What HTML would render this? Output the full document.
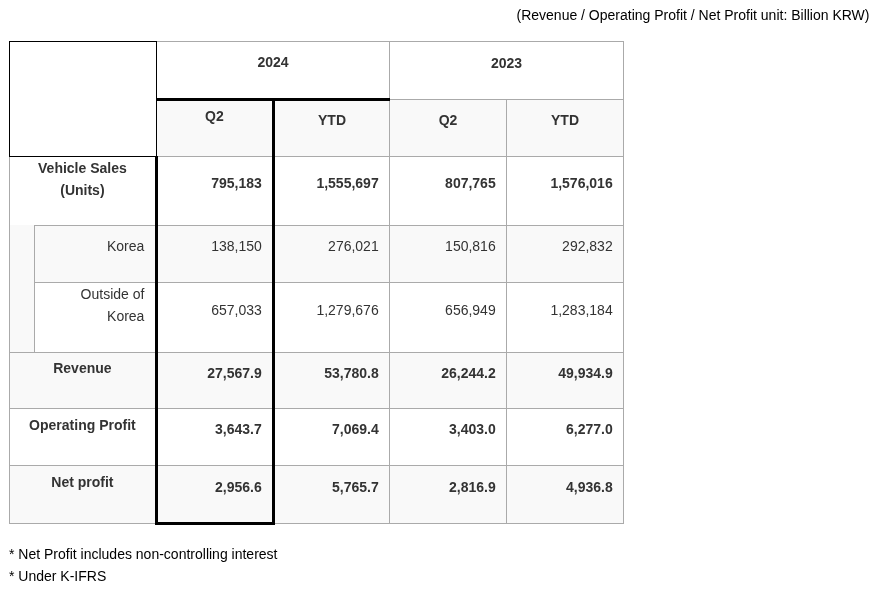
<!DOCTYPE html>
<html><head><meta charset="utf-8"><title>Table</title>
<style>
html,body{margin:0;padding:0;background:#fff;}
body{width:873px;height:590px;position:relative;overflow:hidden;font-family:"Liberation Sans",sans-serif;font-size:14px;color:#333;}
.t{position:absolute;line-height:22px;white-space:nowrap;will-change:transform;}
</style></head><body>
<div style="position:absolute;left:157px;top:100px;width:467px;height:56px;background:#f9f9f9;"></div>
<div style="position:absolute;left:10px;top:225px;width:614px;height:57px;background:#f9f9f9;"></div>
<div style="position:absolute;left:10px;top:282px;width:24px;height:70px;background:#f9f9f9;"></div>
<div style="position:absolute;left:10px;top:353px;width:614px;height:55px;background:#f9f9f9;"></div>
<div style="position:absolute;left:10px;top:466px;width:614px;height:57px;background:#f9f9f9;"></div>
<div style="position:absolute;left:156px;top:41px;width:468px;height:1px;background:#aaa;"></div>
<div style="position:absolute;left:389px;top:99px;width:235px;height:1px;background:#aaa;"></div>
<div style="position:absolute;left:156px;top:156px;width:468px;height:1px;background:#aaa;"></div>
<div style="position:absolute;left:34px;top:225px;width:590px;height:1px;background:#aaa;"></div>
<div style="position:absolute;left:34px;top:282px;width:590px;height:1px;background:#aaa;"></div>
<div style="position:absolute;left:9px;top:352px;width:615px;height:1px;background:#aaa;"></div>
<div style="position:absolute;left:9px;top:408px;width:615px;height:1px;background:#aaa;"></div>
<div style="position:absolute;left:9px;top:465px;width:615px;height:1px;background:#aaa;"></div>
<div style="position:absolute;left:9px;top:523px;width:615px;height:1px;background:#aaa;"></div>
<div style="position:absolute;left:9px;top:156px;width:1px;height:368px;background:#aaa;"></div>
<div style="position:absolute;left:34px;top:225px;width:1px;height:128px;background:#aaa;"></div>
<div style="position:absolute;left:389px;top:41px;width:1px;height:483px;background:#aaa;"></div>
<div style="position:absolute;left:506px;top:99px;width:1px;height:425px;background:#aaa;"></div>
<div style="position:absolute;left:623px;top:41px;width:1px;height:483px;background:#aaa;"></div>
<div style="position:absolute;left:156px;top:156px;width:1px;height:368px;background:#aaa;"></div>
<div style="position:absolute;left:9px;top:41px;width:148px;height:1px;background:#000;"></div>
<div style="position:absolute;left:9px;top:156px;width:148px;height:1px;background:#000;"></div>
<div style="position:absolute;left:9px;top:41px;width:1px;height:116px;background:#000;"></div>
<div style="position:absolute;left:156px;top:41px;width:1px;height:116px;background:#000;"></div>
<div style="position:absolute;left:156px;top:98px;width:234px;height:3px;background:#000;"></div>
<div style="position:absolute;left:155px;top:156px;width:3px;height:369px;background:#000;"></div>
<div style="position:absolute;left:272px;top:98px;width:3px;height:427px;background:#000;"></div>
<div style="position:absolute;left:155px;top:522px;width:120px;height:3px;background:#000;"></div>
<div class="t" style="left:400px;top:4px;width:469px;text-align:right;transform:translate(0.5px,0.4px);color:#000;">(Revenue / Operating Profit / Net Profit unit: Billion KRW)</div>
<div class="t" style="left:157px;top:51px;width:232px;text-align:center;font-weight:bold;">2024</div>
<div class="t" style="left:390px;top:52px;width:233px;text-align:center;font-weight:bold;">2023</div>
<div class="t" style="left:157px;top:105px;width:114px;text-align:center;font-weight:bold;transform:translate(0.4px,0px);">Q2</div>
<div class="t" style="left:275px;top:109px;width:114px;text-align:center;font-weight:bold;">YTD</div>
<div class="t" style="left:390px;top:109px;width:116px;text-align:center;font-weight:bold;">Q2</div>
<div class="t" style="left:507px;top:109px;width:116px;text-align:center;font-weight:bold;">YTD</div>
<div class="t" style="left:151px;top:172px;width:110px;text-align:right;font-weight:bold;transform:translate(0.75px,0px);">795,183</div>
<div class="t" style="left:268px;top:172px;width:110px;text-align:right;font-weight:bold;transform:translate(0.7px,0px);">1,555,697</div>
<div class="t" style="left:385px;top:172px;width:110px;text-align:right;font-weight:bold;transform:translate(0.7px,0px);">807,765</div>
<div class="t" style="left:502px;top:172px;width:110px;text-align:right;font-weight:bold;transform:translate(0.7px,0px);">1,576,016</div>
<div class="t" style="left:151px;top:235px;width:110px;text-align:right;transform:translate(0.75px,0px);">138,150</div>
<div class="t" style="left:268px;top:235px;width:110px;text-align:right;transform:translate(0.7px,0px);">276,021</div>
<div class="t" style="left:385px;top:235px;width:110px;text-align:right;transform:translate(0.7px,0px);">150,816</div>
<div class="t" style="left:502px;top:235px;width:110px;text-align:right;transform:translate(0.7px,0px);">292,832</div>
<div class="t" style="left:151px;top:299px;width:110px;text-align:right;transform:translate(0.75px,0px);">657,033</div>
<div class="t" style="left:268px;top:299px;width:110px;text-align:right;transform:translate(0.7px,0px);">1,279,676</div>
<div class="t" style="left:385px;top:299px;width:110px;text-align:right;transform:translate(0.7px,0px);">656,949</div>
<div class="t" style="left:502px;top:299px;width:110px;text-align:right;transform:translate(0.7px,0px);">1,283,184</div>
<div class="t" style="left:151px;top:362px;width:110px;text-align:right;font-weight:bold;transform:translate(0.75px,0px);">27,567.9</div>
<div class="t" style="left:268px;top:362px;width:110px;text-align:right;font-weight:bold;transform:translate(0.7px,0px);">53,780.8</div>
<div class="t" style="left:385px;top:362px;width:110px;text-align:right;font-weight:bold;transform:translate(0.7px,0px);">26,244.2</div>
<div class="t" style="left:502px;top:362px;width:110px;text-align:right;font-weight:bold;transform:translate(0.7px,0px);">49,934.9</div>
<div class="t" style="left:151px;top:418px;width:110px;text-align:right;font-weight:bold;transform:translate(0.75px,0px);">3,643.7</div>
<div class="t" style="left:268px;top:418px;width:110px;text-align:right;font-weight:bold;transform:translate(0.7px,0px);">7,069.4</div>
<div class="t" style="left:385px;top:418px;width:110px;text-align:right;font-weight:bold;transform:translate(0.7px,0px);">3,403.0</div>
<div class="t" style="left:502px;top:418px;width:110px;text-align:right;font-weight:bold;transform:translate(0.7px,0px);">6,277.0</div>
<div class="t" style="left:151px;top:476px;width:110px;text-align:right;font-weight:bold;transform:translate(0.75px,0px);">2,956.6</div>
<div class="t" style="left:268px;top:476px;width:110px;text-align:right;font-weight:bold;transform:translate(0.7px,0px);">5,765.7</div>
<div class="t" style="left:385px;top:476px;width:110px;text-align:right;font-weight:bold;transform:translate(0.7px,0px);">2,816.9</div>
<div class="t" style="left:502px;top:476px;width:110px;text-align:right;font-weight:bold;transform:translate(0.7px,0px);">4,936.8</div>
<div class="t" style="left:9px;top:157px;width:146px;text-align:center;font-weight:bold;transform:translate(0.4px,0px);">Vehicle Sales<br>(Units)</div>
<div class="t" style="left:34px;top:235px;width:110px;text-align:right;transform:translate(0.3px,0px);">Korea</div>
<div class="t" style="left:34px;top:283px;width:110px;text-align:right;transform:translate(0.4px,0.4px);">Outside of<br>Korea</div>
<div class="t" style="left:9px;top:357px;width:146px;text-align:center;font-weight:bold;transform:translate(0.4px,0px);">Revenue</div>
<div class="t" style="left:9px;top:414px;width:146px;text-align:center;font-weight:bold;transform:translate(0.4px,0px);">Operating Profit</div>
<div class="t" style="left:9px;top:471px;width:146px;text-align:center;font-weight:bold;transform:translate(0.4px,0px);">Net profit</div>
<div class="t" style="left:9px;top:543px;width:500px;text-align:left;color:#000;">* Net Profit includes non-controlling interest</div>
<div class="t" style="left:9px;top:565px;width:500px;text-align:left;color:#000;">* Under K-IFRS</div>
</body></html>
